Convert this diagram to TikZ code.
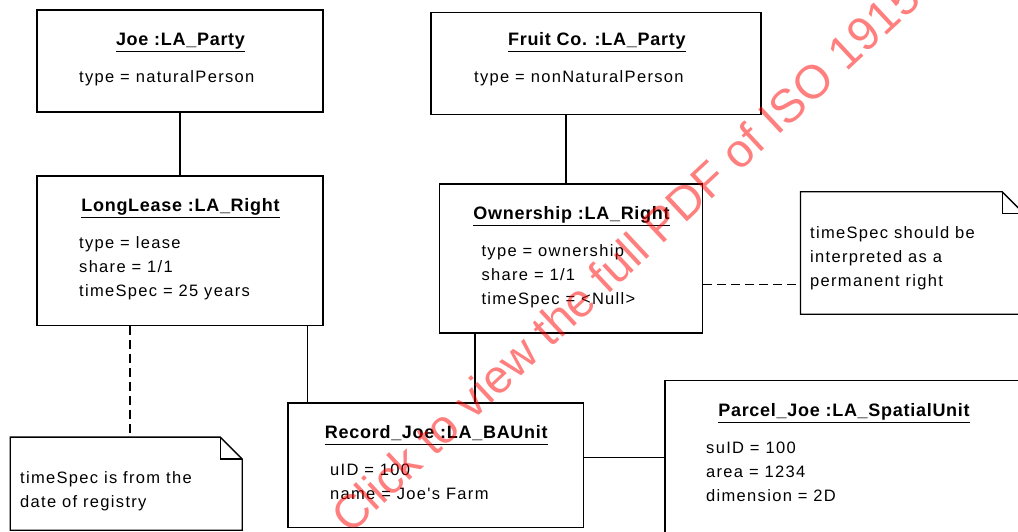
\documentclass[tikz,border=0pt]{standalone}
\usepackage{fontspec}
\setmainfont{Liberation Sans}
\newfontfamily\attrfont[LetterSpace=8]{Liberation Sans}
\newfontfamily\titlefont[LetterSpace=4]{Liberation Sans}
\newfontfamily\wmfont{Liberation Sans}
\tikzset{
  box/.style={draw, line width=1.3pt, inner sep=0pt, rectangle},
  plain/.style={inner sep=0pt, rectangle},
  ttl/.style={inner sep=0pt, anchor=base, font=\titlefont\bfseries\fontsize{18}{20}\selectfont},
  attr/.style={inner sep=0pt, anchor=base west, font=\attrfont\fontsize{16.5}{19}\selectfont},
  conn/.style={line width=1.3pt},
  dconn/.style={line width=1.3pt, dash pattern=on 9pt off 5pt},
  uline/.style={line width=1.5pt},
  wm/.style={inner sep=0pt, anchor=base west, rotate=43, text=red, text opacity=0.5, font=\wmfont\fontsize{47}{50}\selectfont},
}
\begin{document}
\begin{tikzpicture}[x=1pt, y=-1pt]
\useasboundingbox (0,0) rectangle (1018,532);
\clip (0,0) rectangle (1018,532);
\fill[white] (0,0) rectangle (1018,532);

% boxes
\node[box, minimum width=286pt, minimum height=102pt] (joe) at (180,61) {};
\node[box, minimum width=286pt, minimum height=149.5pt] (lease) at (180,250.75) {};
\node[box, minimum width=330pt, minimum height=102pt] (fruit) at (596,63.3) {};
\node[box, minimum width=263pt, minimum height=149pt] (own) at (571,258.5) {};
\node[box, minimum width=295.5pt, minimum height=124.7pt] (rec) at (435.75,465.35) {};
\node[box, minimum width=358pt, minimum height=180pt] (parcel) at (844,470.7) {};

% notes
\node[plain, minimum width=231.5pt, minimum height=92.7pt] (n1) at (126.25,483.65) {};
\node[plain, minimum width=223.3pt, minimum height=122pt] (n2) at (912.35,253) {};
\foreach \n in {n1,n2}{
  \draw[conn, fill=white] (\n.north west) -- ([xshift=-22pt]\n.north east) -- ([yshift=-22pt]\n.north east) -- (\n.south east) -- (\n.south west) -- cycle;
  \draw[conn] ([xshift=-22pt]\n.north east) -- ([xshift=-22pt,yshift=-22pt]\n.north east) -- ([yshift=-22pt]\n.north east);
}

% titles
\node[ttl] (tjoe) at (180.5,45.7) {Joe :LA\_Party};
\node[ttl] (tlease) at (180.5,211.7) {LongLease :LA\_Right};
\node[ttl] (tfruit) at (596.8,45.7) {Fruit Co. :LA\_Party};
\node[ttl] (town) at (571.5,219.3) {Ownership :LA\_Right};
\node[ttl] (trec) at (436.3,438.3) {Record\_Joe :LA\_BAUnit};
\node[ttl] (tparcel) at (844,416.7) {Parcel\_Joe :LA\_SpatialUnit};
\foreach \t in {tjoe,tlease,tfruit,town,trec,tparcel}{
  \draw[uline] ([yshift=-6pt]\t.base west) -- ([yshift=-6pt]\t.base east);
}

% attributes
\node[attr] (a1) at (79,82.3) {type = naturalPerson};
\node[attr] (a2) at (79,248.3) {type = lease};
\node[attr] (a3) at (79,272.6) {share = 1/1};
\node[attr] (a4) at (79,296.9) {timeSpec = 25 years};
\node[attr] (a5) at (474,82.3) {type = nonNaturalPerson};
\node[attr] (a6) at (481.4,256) {type = ownership};
\node[attr] (a7) at (481.4,280.3) {share = 1/1};
\node[attr] (a8) at (481.4,304.6) {timeSpec = <Null>};
\node[attr] (a9) at (330,475) {uID = 100};
\node[attr] (a10) at (330,499.3) {name = Joe's Farm};
\node[attr] (a11) at (706,453.3) {suID = 100};
\node[attr] (a12) at (706,477.6) {area = 1234};
\node[attr] (a13) at (706,501.9) {dimension = 2D};
\node[attr] (a14) at (20,483.3) {timeSpec is from the};
\node[attr] (a15) at (20,507.6) {date of registry};
\node[attr] (a16) at (810,238.3) {timeSpec should be};
\node[attr] (a17) at (810,262.6) {interpreted as a};
\node[attr] (a18) at (810,286.9) {permanent right};

% connectors
\coordinate (cx1) at (566,0);
\coordinate (cx2) at (130,0);
\coordinate (cx3) at (307.5,0);
\coordinate (cx4) at (475,0);
\coordinate (cy1) at (0,284.3);
\coordinate (cy2) at (0,457.3);
\draw[conn] (joe.south) -- (lease.north);
\draw[conn] (cx1 |- fruit.south) -- (cx1 |- own.north);
\draw[dconn] (cx2 |- lease.south) -- (cx2 |- n1.north);
\draw[conn] (cx3 |- lease.south) -- (cx3 |- rec.north);
\draw[conn] (cx4 |- own.south) -- (cx4 |- rec.north);
\draw[dconn] (own.east |- cy1) -- (n2.west |- cy1);
\draw[conn] (rec.east |- cy2) -- (parcel.west |- cy2);

% watermark
\node[wm] (wmark) at (350,536) {Click to view the full PDF of ISO 19152:2012};
\end{tikzpicture}
\end{document}
